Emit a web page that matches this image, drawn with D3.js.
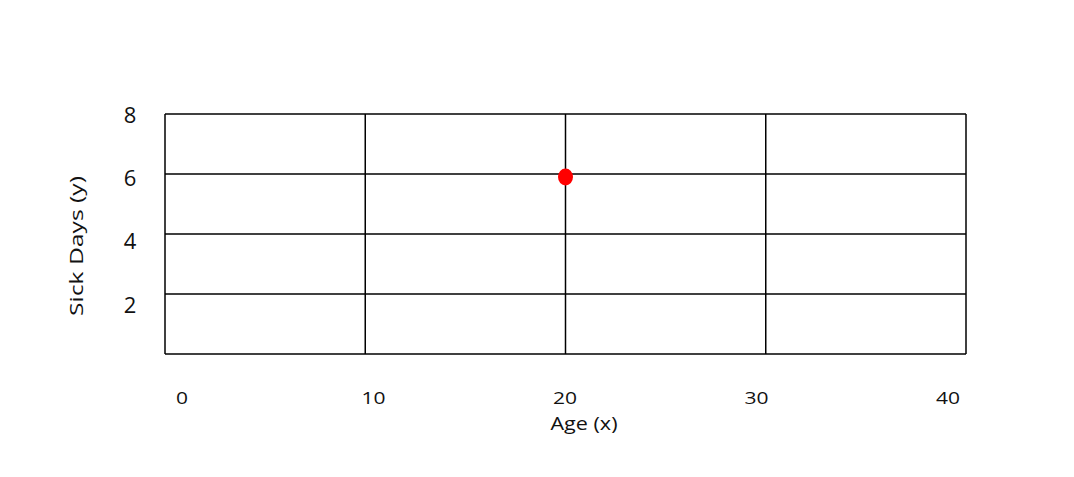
<!DOCTYPE html>
<html>
<head>
<meta charset="utf-8">
<script src="https://cdn.jsdelivr.net/npm/d3@7"></script>
<style>
  html, body { margin: 0; padding: 0; background: #fff; }
  svg text { font-family: "Open Sans", Lato, "Liberation Sans", sans-serif; fill: #111; }
</style>
</head>
<body>
<svg id="chart" width="1074" height="477"></svg>
<script>
// Data
const xTicks = [0, 10, 20, 30, 40];
const yTicks = [2, 4, 6, 8];
const xGrid = [0, 10, 20, 30, 40];
const yGrid = [0, 2, 4, 6, 8];
const points = [{ age: 20, sick: 5.9 }];
const xTitle = "Age (x)";
const yTitle = "Sick Days (y)";

const svg = d3.select("#chart");
const plot = { left: 165, right: 966, top: 114, bottom: 354 };

const x = d3.scaleLinear().domain([0, 40]).range([plot.left, plot.right]);
const y = d3.scaleLinear().domain([0, 8]).range([plot.bottom, plot.top]);
// label scales (labels sit slightly inset / offset from the grid)
const xLab = d3.scaleLinear().domain([0, 40]).range([182, 948]);
const yLab = d3.scaleLinear().domain([0, 8]).range([368, 115]);

const g = svg.append("g");

// grid
g.selectAll("line.v").data(xGrid).join("line")
  .attr("x1", d => x(d)).attr("x2", d => x(d))
  .attr("y1", plot.top).attr("y2", plot.bottom)
  .attr("stroke", "#000").attr("stroke-width", 1.5);
g.selectAll("line.h").data(yGrid).join("line")
  .attr("y1", d => y(d)).attr("y2", d => y(d))
  .attr("x1", plot.left).attr("x2", plot.right)
  .attr("stroke", "#000").attr("stroke-width", 1.5);

// tick labels
g.selectAll("text.xt").data(xTicks).join("text")
  .attr("x", d => xLab(d)).attr("y", 404)
  .attr("text-anchor", "middle").attr("font-size", 16)
  .attr("textLength", d => String(d).length * 12)
  .attr("lengthAdjust", "spacingAndGlyphs")
  .text(d => d);
g.selectAll("text.yt").data(yTicks).join("text")
  .attr("x", 130).attr("y", d => yLab(d))
  .attr("dy", "0.36em")
  .attr("text-anchor", "middle").attr("font-size", 22)
  .text(d => d);

// titles
svg.append("text").attr("x", 584).attr("y", 430)
  .attr("text-anchor", "middle").attr("font-size", 18)
  .attr("textLength", 67).attr("lengthAdjust", "spacingAndGlyphs")
  .text(xTitle);
svg.append("text")
  .attr("transform", "translate(83,246) rotate(-90)")
  .attr("text-anchor", "middle").attr("font-size", 19)
  .attr("textLength", 140).attr("lengthAdjust", "spacingAndGlyphs")
  .text(yTitle);

// points
g.selectAll("ellipse.pt").data(points).join("ellipse")
  .attr("cx", d => x(d.age)).attr("cy", d => y(d.sick))
  .attr("rx", 7.5).attr("ry", 8.5)
  .attr("fill", "#f00");
</script>
</body>
</html>
